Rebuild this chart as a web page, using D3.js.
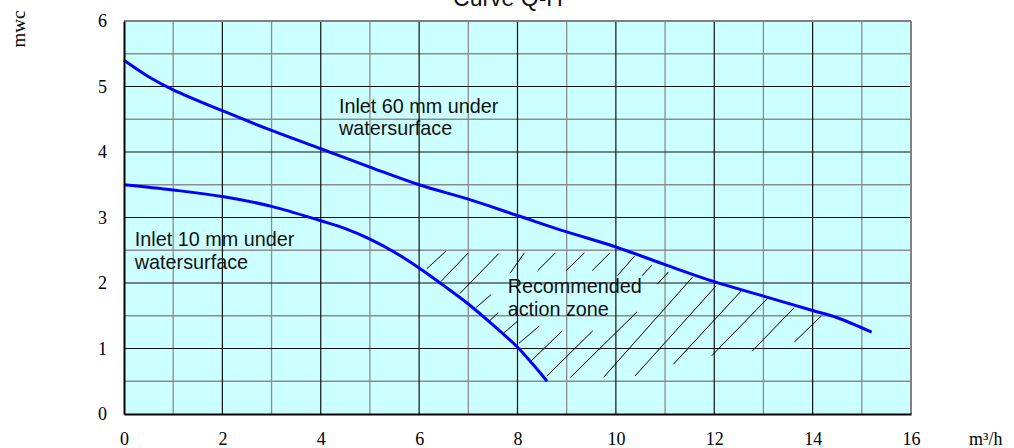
<!DOCTYPE html>
<html><head><meta charset="utf-8">
<script src="https://cdn.jsdelivr.net/npm/d3@7"></script>
<style>body{margin:0;background:#fff}svg{display:block}</style>
</head><body>
<svg id="c" width="1014" height="448"></svg>
<script>
// ---- data ----
const xTicks = [0,2,4,6,8,10,12,14,16];
const yTicks = [0,1,2,3,4,5,6];
const upperQ = [0,0.5,1,2,3,4,5,6,7,8,9,10,11,12,13,14,14.5,15.2];
const upperH = [5.4,5.15,4.95,4.63,4.33,4.05,3.77,3.5,3.28,3.03,2.78,2.55,2.28,2.02,1.8,1.58,1.47,1.25];
const lowerQ = [0,1,2,3,4,4.5,5,5.5,6,6.5,7,7.5,8,8.3,8.6];
const lowerH = [3.5,3.42,3.32,3.17,2.95,2.83,2.67,2.47,2.23,1.96,1.68,1.36,1.02,0.77,0.5];
// hatch segments [q1,h1,q2,h2]
const hatch = [
 [6.16,2.22,6.55,2.49],[6.44,2.02,7.00,2.46],[6.83,1.84,7.62,2.45],[7.15,1.62,7.46,1.82],
 [7.43,1.42,7.61,1.55],[7.71,1.23,7.99,1.41],[8.03,1.08,8.44,1.34],[8.25,0.79,8.91,1.27],
 [8.60,0.58,9.53,1.27],[9.08,0.56,10.43,1.56],[9.75,0.56,11.56,2.09],[10.39,0.58,12.03,1.95],
 [11.17,0.76,12.55,1.88],[11.95,0.89,13.09,1.77],[12.77,0.96,13.62,1.62],[13.63,1.10,14.18,1.50],
 [7.85,2.15,8.14,2.46],[8.41,2.19,8.77,2.46],[8.99,2.19,9.36,2.46],[9.52,2.19,9.88,2.46],
 [10.03,2.11,10.38,2.41],[10.53,2.11,10.73,2.27],[10.84,1.98,11.07,2.17]
];
const labels = [
 {q:4.37, h:4.6, lines:["Inlet 60 mm under","watersurface"]},
 {q:0.22, h:2.56, lines:["Inlet 10 mm under","watersurface"]},
 {q:7.8, h:1.84, lines:["Recommended","action zone"]}
];
const title = "Curve Q-H";
const yName = "mwc";
const xName = "m³/h";

// ---- chart ----
const svg = d3.select("#c");
const L = 124, T = 21, W = 787, H = 393;
const x = d3.scaleLinear().domain([0,16]).range([L, L+W]);
const y = d3.scaleLinear().domain([0,6]).range([T+H, T]);

svg.append("rect").attr("x",L).attr("y",T).attr("width",W).attr("height",H).attr("fill","#ccffff");

const g = svg.append("g");
// minor grid
d3.range(1,16,2).forEach(v=>g.append("line").attr("x1",x(v)).attr("x2",x(v)).attr("y1",T).attr("y2",T+H).attr("stroke","#8c8c8c").attr("stroke-width",1.3));
d3.range(0.5,6,1).forEach(v=>g.append("line").attr("y1",y(v)).attr("y2",y(v)).attr("x1",L).attr("x2",L+W).attr("stroke","#8c8c8c").attr("stroke-width",1.3));
// major grid
d3.range(2,16,2).forEach(v=>g.append("line").attr("x1",x(v)).attr("x2",x(v)).attr("y1",T).attr("y2",T+H).attr("stroke","#111").attr("stroke-width",1.2));
d3.range(1,6,1).forEach(v=>g.append("line").attr("y1",y(v)).attr("y2",y(v)).attr("x1",L).attr("x2",L+W).attr("stroke","#111").attr("stroke-width",1.2));
// frame
g.append("line").attr("x1",L).attr("x2",L+W).attr("y1",T).attr("y2",T).attr("stroke","#808080").attr("stroke-width",2);
g.append("line").attr("x1",L+W).attr("x2",L+W).attr("y1",T).attr("y2",T+H).attr("stroke","#808080").attr("stroke-width",2);

// hatch
svg.append("g").selectAll("line").data(hatch).join("line")
 .attr("x1",d=>x(d[0])).attr("y1",d=>y(d[1])).attr("x2",d=>x(d[2])).attr("y2",d=>y(d[3]))
 .attr("stroke","#000").attr("stroke-width",1);

// curves
const line = d3.line().x(d=>x(d[0])).y(d=>y(d[1])).curve(d3.curveCatmullRom.alpha(0.5));
[[upperQ,upperH],[lowerQ,lowerH]].forEach(([qs,hs])=>{
  svg.append("path").attr("d", line(qs.map((q,i)=>[q,hs[i]])))
   .attr("fill","none").attr("stroke","#0000ff").attr("stroke-width",3);
});

// axes
const xa = svg.append("g").attr("transform",`translate(0,${T+H})`)
 .call(d3.axisBottom(x).tickValues(xTicks).tickSize(0).tickPadding(18).tickFormat(d3.format("d")));
const ya = svg.append("g").attr("transform",`translate(${L},0)`)
 .call(d3.axisLeft(y).tickValues(yTicks).tickSize(0).tickPadding(17).tickFormat(d3.format("d")));
[xa,ya].forEach(a=>{
  a.select(".domain").attr("stroke","#000").attr("stroke-width",2);
  a.selectAll("text").attr("font-family","'Liberation Serif','Times New Roman',serif").attr("font-size",18).attr("fill","#000");
});

// annotations
const ann = svg.append("g").attr("font-family","'Liberation Sans',Arial,sans-serif").attr("font-size",19.8).attr("fill","#111");
labels.forEach(l=>{
  l.lines.forEach((t,i)=>ann.append("text").attr("x",x(l.q)).attr("y",y(l.h)+i*22.5).text(t));
});

// title & axis names
svg.append("text").attr("x",508).attr("y",6).attr("text-anchor","middle")
 .attr("font-family","'Liberation Sans',Arial,sans-serif").attr("font-size",23).attr("fill","#111").text(title);
svg.append("text").attr("transform","translate(25,29) rotate(-90)").attr("text-anchor","middle")
 .attr("font-family","'Liberation Serif','Times New Roman',serif").attr("font-size",19).attr("fill","#000").text(yName);
svg.append("text").attr("x",969).attr("y",445)
 .attr("font-family","'Liberation Serif','Times New Roman',serif").attr("font-size",18).attr("fill","#000").text(xName);
</script>
</body></html>
